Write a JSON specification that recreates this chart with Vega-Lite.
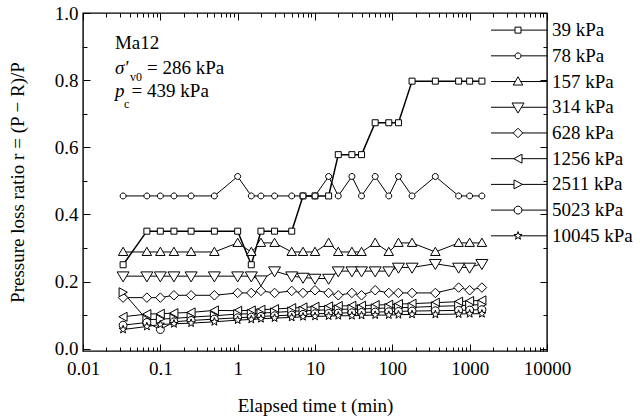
{
  "$schema": "https://vega.github.io/schema/vega-lite/v6.json",
  "autosize": "none",
  "width": 464,
  "height": 338,
  "padding": {"left": 83, "top": 13, "right": 93, "bottom": 68},
  "background": "white",
  "config": {
    "view": {"stroke": "black", "strokeWidth": 1.4},
    "font": "Liberation Serif",
    "axis": {"grid": false, "domain": false, "tickColor": "black", "tickWidth": 1, "labelColor": "black", "labelFont": "Liberation Serif", "labelFontSize": 19, "titleFont": "Liberation Serif", "titleFontSize": 19, "titleFontWeight": "normal", "titleColor": "black", "labelOverlap": false, "labelFlush": false}
  },
  "datasets": {
    "series": [
      {"s":"39 kPa","t":0.033,"r":0.25},{"s":"39 kPa","t":0.067,"r":0.35},{"s":"39 kPa","t":0.1,"r":0.35},{"s":"39 kPa","t":0.15,"r":0.35},{"s":"39 kPa","t":0.25,"r":0.35},{"s":"39 kPa","t":0.5,"r":0.35},{"s":"39 kPa","t":1,"r":0.35},{"s":"39 kPa","t":1.5,"r":0.25},{"s":"39 kPa","t":2,"r":0.35},{"s":"39 kPa","t":3,"r":0.35},{"s":"39 kPa","t":5,"r":0.35},{"s":"39 kPa","t":7,"r":0.455},{"s":"39 kPa","t":10,"r":0.455},{"s":"39 kPa","t":15,"r":0.455},{"s":"39 kPa","t":20,"r":0.578},{"s":"39 kPa","t":30,"r":0.578},{"s":"39 kPa","t":40,"r":0.578},{"s":"39 kPa","t":60,"r":0.673},{"s":"39 kPa","t":90,"r":0.673},{"s":"39 kPa","t":120,"r":0.673},{"s":"39 kPa","t":180,"r":0.797},{"s":"39 kPa","t":360,"r":0.797},{"s":"39 kPa","t":720,"r":0.797},{"s":"39 kPa","t":1000,"r":0.797},{"s":"39 kPa","t":1440,"r":0.797},
      {"s":"78 kPa","t":0.033,"r":0.455},{"s":"78 kPa","t":0.067,"r":0.455},{"s":"78 kPa","t":0.1,"r":0.455},{"s":"78 kPa","t":0.15,"r":0.455},{"s":"78 kPa","t":0.25,"r":0.455},{"s":"78 kPa","t":0.5,"r":0.455},{"s":"78 kPa","t":1,"r":0.513},{"s":"78 kPa","t":1.5,"r":0.455},{"s":"78 kPa","t":2,"r":0.455},{"s":"78 kPa","t":3,"r":0.455},{"s":"78 kPa","t":5,"r":0.455},{"s":"78 kPa","t":7,"r":0.455},{"s":"78 kPa","t":10,"r":0.455},{"s":"78 kPa","t":15,"r":0.513},{"s":"78 kPa","t":20,"r":0.455},{"s":"78 kPa","t":30,"r":0.513},{"s":"78 kPa","t":40,"r":0.455},{"s":"78 kPa","t":60,"r":0.513},{"s":"78 kPa","t":90,"r":0.455},{"s":"78 kPa","t":120,"r":0.513},{"s":"78 kPa","t":180,"r":0.455},{"s":"78 kPa","t":360,"r":0.513},{"s":"78 kPa","t":720,"r":0.455},{"s":"78 kPa","t":1000,"r":0.455},{"s":"78 kPa","t":1440,"r":0.455},
      {"s":"157 kPa","t":0.033,"r":0.288},{"s":"157 kPa","t":0.067,"r":0.288},{"s":"157 kPa","t":0.1,"r":0.288},{"s":"157 kPa","t":0.15,"r":0.288},{"s":"157 kPa","t":0.25,"r":0.288},{"s":"157 kPa","t":0.5,"r":0.288},{"s":"157 kPa","t":1,"r":0.315},{"s":"157 kPa","t":1.5,"r":0.288},{"s":"157 kPa","t":2,"r":0.315},{"s":"157 kPa","t":3,"r":0.315},{"s":"157 kPa","t":5,"r":0.288},{"s":"157 kPa","t":7,"r":0.288},{"s":"157 kPa","t":10,"r":0.288},{"s":"157 kPa","t":15,"r":0.315},{"s":"157 kPa","t":20,"r":0.288},{"s":"157 kPa","t":30,"r":0.288},{"s":"157 kPa","t":40,"r":0.288},{"s":"157 kPa","t":60,"r":0.315},{"s":"157 kPa","t":90,"r":0.288},{"s":"157 kPa","t":120,"r":0.315},{"s":"157 kPa","t":180,"r":0.315},{"s":"157 kPa","t":360,"r":0.288},{"s":"157 kPa","t":720,"r":0.315},{"s":"157 kPa","t":1000,"r":0.315},{"s":"157 kPa","t":1440,"r":0.315},
      {"s":"314 kPa","t":0.033,"r":0.216},{"s":"314 kPa","t":0.067,"r":0.216},{"s":"314 kPa","t":0.1,"r":0.216},{"s":"314 kPa","t":0.15,"r":0.216},{"s":"314 kPa","t":0.25,"r":0.216},{"s":"314 kPa","t":0.5,"r":0.216},{"s":"314 kPa","t":1,"r":0.216},{"s":"314 kPa","t":1.5,"r":0.216},{"s":"314 kPa","t":2,"r":0.204},{"s":"314 kPa","t":3,"r":0.231},{"s":"314 kPa","t":5,"r":0.216},{"s":"314 kPa","t":7,"r":0.212},{"s":"314 kPa","t":10,"r":0.209},{"s":"314 kPa","t":15,"r":0.209},{"s":"314 kPa","t":20,"r":0.231},{"s":"314 kPa","t":30,"r":0.231},{"s":"314 kPa","t":40,"r":0.231},{"s":"314 kPa","t":60,"r":0.231},{"s":"314 kPa","t":90,"r":0.231},{"s":"314 kPa","t":120,"r":0.242},{"s":"314 kPa","t":180,"r":0.242},{"s":"314 kPa","t":360,"r":0.253},{"s":"314 kPa","t":720,"r":0.242},{"s":"314 kPa","t":1000,"r":0.242},{"s":"314 kPa","t":1440,"r":0.253},
      {"s":"628 kPa","t":0.033,"r":0.152},{"s":"628 kPa","t":0.067,"r":0.152},{"s":"628 kPa","t":0.1,"r":0.152},{"s":"628 kPa","t":0.15,"r":0.159},{"s":"628 kPa","t":0.25,"r":0.159},{"s":"628 kPa","t":0.5,"r":0.159},{"s":"628 kPa","t":1,"r":0.166},{"s":"628 kPa","t":1.5,"r":0.166},{"s":"628 kPa","t":2,"r":0.172},{"s":"628 kPa","t":3,"r":0.166},{"s":"628 kPa","t":5,"r":0.172},{"s":"628 kPa","t":7,"r":0.166},{"s":"628 kPa","t":10,"r":0.174},{"s":"628 kPa","t":15,"r":0.166},{"s":"628 kPa","t":20,"r":0.159},{"s":"628 kPa","t":30,"r":0.166},{"s":"628 kPa","t":40,"r":0.159},{"s":"628 kPa","t":60,"r":0.174},{"s":"628 kPa","t":90,"r":0.166},{"s":"628 kPa","t":120,"r":0.166},{"s":"628 kPa","t":180,"r":0.166},{"s":"628 kPa","t":360,"r":0.166},{"s":"628 kPa","t":720,"r":0.182},{"s":"628 kPa","t":1000,"r":0.174},{"s":"628 kPa","t":1440,"r":0.182},
      {"s":"1256 kPa","t":0.033,"r":0.095},{"s":"1256 kPa","t":0.067,"r":0.103},{"s":"1256 kPa","t":0.1,"r":0.104},{"s":"1256 kPa","t":0.15,"r":0.106},{"s":"1256 kPa","t":0.25,"r":0.108},{"s":"1256 kPa","t":0.5,"r":0.114},{"s":"1256 kPa","t":1,"r":0.113},{"s":"1256 kPa","t":1.5,"r":0.114},{"s":"1256 kPa","t":2,"r":0.116},{"s":"1256 kPa","t":3,"r":0.118},{"s":"1256 kPa","t":5,"r":0.121},{"s":"1256 kPa","t":7,"r":0.123},{"s":"1256 kPa","t":10,"r":0.125},{"s":"1256 kPa","t":15,"r":0.126},{"s":"1256 kPa","t":20,"r":0.127},{"s":"1256 kPa","t":30,"r":0.128},{"s":"1256 kPa","t":40,"r":0.128},{"s":"1256 kPa","t":60,"r":0.13},{"s":"1256 kPa","t":90,"r":0.131},{"s":"1256 kPa","t":120,"r":0.133},{"s":"1256 kPa","t":180,"r":0.134},{"s":"1256 kPa","t":360,"r":0.137},{"s":"1256 kPa","t":720,"r":0.14},{"s":"1256 kPa","t":1000,"r":0.142},{"s":"1256 kPa","t":1440,"r":0.144},
      {"s":"2511 kPa","t":0.033,"r":0.168},{"s":"2511 kPa","t":0.067,"r":0.086},{"s":"2511 kPa","t":0.1,"r":0.088},{"s":"2511 kPa","t":0.15,"r":0.09},{"s":"2511 kPa","t":0.25,"r":0.094},{"s":"2511 kPa","t":0.5,"r":0.098},{"s":"2511 kPa","t":1,"r":0.103},{"s":"2511 kPa","t":1.5,"r":0.104},{"s":"2511 kPa","t":2,"r":0.106},{"s":"2511 kPa","t":3,"r":0.108},{"s":"2511 kPa","t":5,"r":0.111},{"s":"2511 kPa","t":7,"r":0.113},{"s":"2511 kPa","t":10,"r":0.114},{"s":"2511 kPa","t":15,"r":0.116},{"s":"2511 kPa","t":20,"r":0.117},{"s":"2511 kPa","t":30,"r":0.118},{"s":"2511 kPa","t":40,"r":0.118},{"s":"2511 kPa","t":60,"r":0.12},{"s":"2511 kPa","t":90,"r":0.121},{"s":"2511 kPa","t":120,"r":0.122},{"s":"2511 kPa","t":180,"r":0.123},{"s":"2511 kPa","t":360,"r":0.126},{"s":"2511 kPa","t":720,"r":0.128},{"s":"2511 kPa","t":1000,"r":0.13},{"s":"2511 kPa","t":1440,"r":0.131},
      {"s":"5023 kPa","t":0.033,"r":0.07},{"s":"5023 kPa","t":0.067,"r":0.078},{"s":"5023 kPa","t":0.1,"r":0.057},{"s":"5023 kPa","t":0.15,"r":0.08},{"s":"5023 kPa","t":0.25,"r":0.084},{"s":"5023 kPa","t":0.5,"r":0.088},{"s":"5023 kPa","t":1,"r":0.092},{"s":"5023 kPa","t":1.5,"r":0.094},{"s":"5023 kPa","t":2,"r":0.096},{"s":"5023 kPa","t":3,"r":0.098},{"s":"5023 kPa","t":5,"r":0.1},{"s":"5023 kPa","t":7,"r":0.102},{"s":"5023 kPa","t":10,"r":0.104},{"s":"5023 kPa","t":15,"r":0.105},{"s":"5023 kPa","t":20,"r":0.106},{"s":"5023 kPa","t":30,"r":0.107},{"s":"5023 kPa","t":40,"r":0.108},{"s":"5023 kPa","t":60,"r":0.109},{"s":"5023 kPa","t":90,"r":0.11},{"s":"5023 kPa","t":120,"r":0.111},{"s":"5023 kPa","t":180,"r":0.112},{"s":"5023 kPa","t":360,"r":0.113},{"s":"5023 kPa","t":720,"r":0.114},{"s":"5023 kPa","t":1000,"r":0.115},{"s":"5023 kPa","t":1440,"r":0.116},
      {"s":"10045 kPa","t":0.033,"r":0.057},{"s":"10045 kPa","t":0.067,"r":0.066},{"s":"10045 kPa","t":0.1,"r":0.072},{"s":"10045 kPa","t":0.15,"r":0.074},{"s":"10045 kPa","t":0.25,"r":0.076},{"s":"10045 kPa","t":0.5,"r":0.08},{"s":"10045 kPa","t":1,"r":0.085},{"s":"10045 kPa","t":1.5,"r":0.087},{"s":"10045 kPa","t":2,"r":0.089},{"s":"10045 kPa","t":3,"r":0.091},{"s":"10045 kPa","t":5,"r":0.093},{"s":"10045 kPa","t":7,"r":0.095},{"s":"10045 kPa","t":10,"r":0.096},{"s":"10045 kPa","t":15,"r":0.097},{"s":"10045 kPa","t":20,"r":0.098},{"s":"10045 kPa","t":30,"r":0.098},{"s":"10045 kPa","t":40,"r":0.099},{"s":"10045 kPa","t":60,"r":0.1},{"s":"10045 kPa","t":90,"r":0.1},{"s":"10045 kPa","t":120,"r":0.101},{"s":"10045 kPa","t":180,"r":0.102},{"s":"10045 kPa","t":360,"r":0.102},{"s":"10045 kPa","t":720,"r":0.103},{"s":"10045 kPa","t":1000,"r":0.104},{"s":"10045 kPa","t":1440,"r":0.104}
    ],
    "keys": [
      {"s":"39 kPa"},{"s":"78 kPa"},{"s":"157 kPa"},{"s":"314 kPa"},{"s":"628 kPa"},{"s":"1256 kPa"},{"s":"2511 kPa"},{"s":"5023 kPa"},{"s":"10045 kPa"}
    ],
    "notesMain": [
      {"t":0.0259,"r":0.894,"label":"Ma12"},
      {"t":0.0672,"r":0.817,"label":"= 286 kPa"},
      {"t":0.0425,"r":0.751,"label":"= 439 kPa"}
    ],
    "notesItalic": [
      {"t":0.0259,"r":0.817,"label":"σ′"},
      {"t":0.0259,"r":0.751,"label":"p"}
    ],
    "notesSub": [
      {"t":0.0405,"r":0.797,"label":"v0"},
      {"t":0.034,"r":0.718,"label":"c"}
    ]
  },
  "resolve": {"axis": {"x": "independent", "y": "independent"}},
  "layer": [
    {
      "data": {"name": "series"},
      "transform": [{"filter": "datum.s === '39 kPa'"}],
      "mark": {"type": "line", "color": "black", "strokeWidth": 1.5},
      "encoding": {
        "x": {"field": "t", "type": "quantitative", "scale": {"type": "log", "domain": [0.01, 10000], "nice": false},
          "axis": {"orient": "bottom", "values": [0.01, 0.1, 1, 10, 100, 1000, 10000], "format": "~g", "tickSize": -7, "labelPadding": 15, "title": "Elapsed time  t (min)", "titleX": 232, "titleY": 54, "titleBaseline": "middle", "titleAlign": "center"}},
        "y": {"field": "r", "type": "quantitative", "scale": {"domain": [-0.007, 1], "nice": false, "zero": false},
          "axis": {"orient": "left", "values": [0, 0.2, 0.4, 0.6, 0.8, 1], "format": ".1f", "tickSize": -7, "labelPadding": 12, "title": "Pressure loss ratio  r = (P − R)/P", "titleX": -66, "titleY": 169, "titleAngle": -90, "titleBaseline": "middle", "titleAlign": "center"}},
        "detail": {"field": "s"}
      }
    },
    {
      "data": {"name": "series"},
      "transform": [{"filter": "datum.s !== '39 kPa'"}],
      "mark": {"type": "line", "color": "black", "strokeWidth": 1},
      "encoding": {
        "x": {"field": "t", "type": "quantitative", "scale": {"type": "log", "domain": [0.01, 10000], "nice": false},
          "axis": {"orient": "bottom", "values": [0.02,0.03,0.04,0.05,0.06,0.07,0.08,0.09,0.2,0.3,0.4,0.5,0.6,0.7,0.8,0.9,2,3,4,5,6,7,8,9,20,30,40,50,60,70,80,90,200,300,400,500,600,700,800,900,2000,3000,4000,5000,6000,7000,8000,9000], "tickSize": -4, "labels": false, "title": null}},
        "y": {"field": "r", "type": "quantitative", "scale": {"domain": [-0.007, 1], "nice": false, "zero": false},
          "axis": {"orient": "left", "values": [0.1, 0.3, 0.5, 0.7, 0.9], "tickSize": -4, "labels": false, "title": null}},
        "detail": {"field": "s"}
      }
    },
    {
      "data": {"name": "series"},
      "mark": {"type": "point", "size": 100, "filled": false, "fill": "white", "stroke": "black", "strokeWidth": 1, "opacity": 1, "fillOpacity": 1},
      "encoding": {
        "x": {"field": "t", "type": "quantitative", "scale": {"type": "log", "domain": [0.01, 10000], "nice": false},
          "axis": {"orient": "top", "values": [0.01, 0.1, 1, 10, 100, 1000, 10000], "tickSize": -7, "labels": false, "title": null}},
        "y": {"field": "r", "type": "quantitative", "scale": {"domain": [-0.007, 1], "nice": false, "zero": false},
          "axis": {"orient": "right", "values": [0, 0.2, 0.4, 0.6, 0.8, 1], "tickSize": -7, "labels": false, "title": null}},
        "shape": {"field": "s", "type": "nominal",
          "scale": {
            "domain": ["39 kPa","78 kPa","157 kPa","314 kPa","628 kPa","1256 kPa","2511 kPa","5023 kPa","10045 kPa"],
            "range": [
              "M-0.6,-0.6H0.6V0.6H-0.6Z",
              "M0.6,0L0.52,0.3L0.3,0.52L0,0.6L-0.3,0.52L-0.52,0.3L-0.6,0L-0.52,-0.3L-0.3,-0.52L0,-0.6L0.3,-0.52L0.52,-0.3Z",
              "M0,-0.95L0.95,0.7L-0.95,0.7Z",
              "M-1.2,-0.85L1.2,-0.85L0,1.15Z",
              "M0,-0.95L0.95,0L0,0.95L-0.95,0Z",
              "M-0.85,0L0.8,-0.9L0.8,0.9Z",
              "M0.85,0L-0.8,-0.9L-0.8,0.9Z",
              "M0.8,0L0.69,0.4L0.4,0.69L0,0.8L-0.4,0.69L-0.69,0.4L-0.8,0L-0.69,-0.4L-0.4,-0.69L0,-0.8L0.4,-0.69L0.69,-0.4Z",
              "M0,-0.85L0.2,-0.28L0.81,-0.26L0.33,0.11L0.5,0.69L0,0.35L-0.5,0.69L-0.33,0.11L-0.81,-0.26L-0.2,-0.28Z"
            ]
          },
          "legend": null
        }
      }
    },
    {
      "data": {"name": "notesMain"},
      "mark": {"type": "text", "font": "Liberation Serif", "fontSize": 19, "align": "left", "baseline": "alphabetic", "color": "black"},
      "encoding": {
        "x": {"field": "t", "type": "quantitative", "scale": {"type": "log", "domain": [0.01, 10000], "nice": false},
          "axis": {"orient": "top", "values": [0.02,0.03,0.04,0.05,0.06,0.07,0.08,0.09,0.2,0.3,0.4,0.5,0.6,0.7,0.8,0.9,2,3,4,5,6,7,8,9,20,30,40,50,60,70,80,90,200,300,400,500,600,700,800,900,2000,3000,4000,5000,6000,7000,8000,9000], "tickSize": -4, "labels": false, "title": null}},
        "y": {"field": "r", "type": "quantitative", "scale": {"domain": [-0.007, 1], "nice": false, "zero": false},
          "axis": {"orient": "right", "values": [0.1, 0.3, 0.5, 0.7, 0.9], "tickSize": -4, "labels": false, "title": null}},
        "text": {"field": "label"}
      }
    },
    {
      "data": {"name": "notesItalic"},
      "mark": {"type": "text", "font": "Liberation Serif", "fontSize": 19, "fontStyle": "italic", "align": "left", "baseline": "alphabetic", "color": "black"},
      "encoding": {
        "x": {"field": "t", "type": "quantitative", "scale": {"type": "log", "domain": [0.01, 10000], "nice": false}, "axis": null},
        "y": {"field": "r", "type": "quantitative", "scale": {"domain": [-0.007, 1], "nice": false, "zero": false}, "axis": null},
        "text": {"field": "label"}
      }
    },
    {
      "data": {"name": "notesSub"},
      "mark": {"type": "text", "font": "Liberation Serif", "fontSize": 12, "align": "left", "baseline": "alphabetic", "color": "black"},
      "encoding": {
        "x": {"field": "t", "type": "quantitative", "scale": {"type": "log", "domain": [0.01, 10000], "nice": false}, "axis": null},
        "y": {"field": "r", "type": "quantitative", "scale": {"domain": [-0.007, 1], "nice": false, "zero": false}, "axis": null},
        "text": {"field": "label"}
      }
    },
    {
      "data": {"name": "keys"},
      "mark": {"type": "rule", "color": "black", "strokeWidth": 1},
      "encoding": {
        "x": {"datum": 1888, "type": "quantitative", "scale": {"type": "log", "domain": [0.01, 10000], "nice": false}, "axis": null},
        "x2": {"datum": 10000},
        "y": {"datum": 0.949, "type": "quantitative", "scale": {"domain": [-0.007, 1], "nice": false, "zero": false}, "axis": null},
        "yOffset": {"field": "s", "type": "nominal", "scale": {"type": "point", "domain": ["39 kPa","78 kPa","157 kPa","314 kPa","628 kPa","1256 kPa","2511 kPa","5023 kPa","10045 kPa"], "range": [0, 205.7], "padding": 0}}
      }
    },
    {
      "data": {"name": "keys"},
      "mark": {"type": "point", "size": 100, "filled": false, "fill": "white", "stroke": "black", "strokeWidth": 1, "opacity": 1, "fillOpacity": 1},
      "encoding": {
        "x": {"datum": 4217, "type": "quantitative", "scale": {"type": "log", "domain": [0.01, 10000], "nice": false}, "axis": null},
        "y": {"datum": 0.949, "type": "quantitative", "scale": {"domain": [-0.007, 1], "nice": false, "zero": false}, "axis": null},
        "yOffset": {"field": "s", "type": "nominal", "scale": {"type": "point", "domain": ["39 kPa","78 kPa","157 kPa","314 kPa","628 kPa","1256 kPa","2511 kPa","5023 kPa","10045 kPa"], "range": [0, 205.7], "padding": 0}},
        "shape": {"field": "s", "type": "nominal", "legend": null}
      }
    },
    {
      "data": {"name": "keys"},
      "mark": {"type": "text", "font": "Liberation Serif", "fontSize": 19, "align": "left", "baseline": "middle", "dx": 5, "color": "black"},
      "encoding": {
        "x": {"datum": 10000, "type": "quantitative", "scale": {"type": "log", "domain": [0.01, 10000], "nice": false}, "axis": null},
        "y": {"datum": 0.949, "type": "quantitative", "scale": {"domain": [-0.007, 1], "nice": false, "zero": false}, "axis": null},
        "yOffset": {"field": "s", "type": "nominal", "scale": {"type": "point", "domain": ["39 kPa","78 kPa","157 kPa","314 kPa","628 kPa","1256 kPa","2511 kPa","5023 kPa","10045 kPa"], "range": [0, 205.7], "padding": 0}},
        "text": {"field": "s"}
      }
    }
  ]
}
